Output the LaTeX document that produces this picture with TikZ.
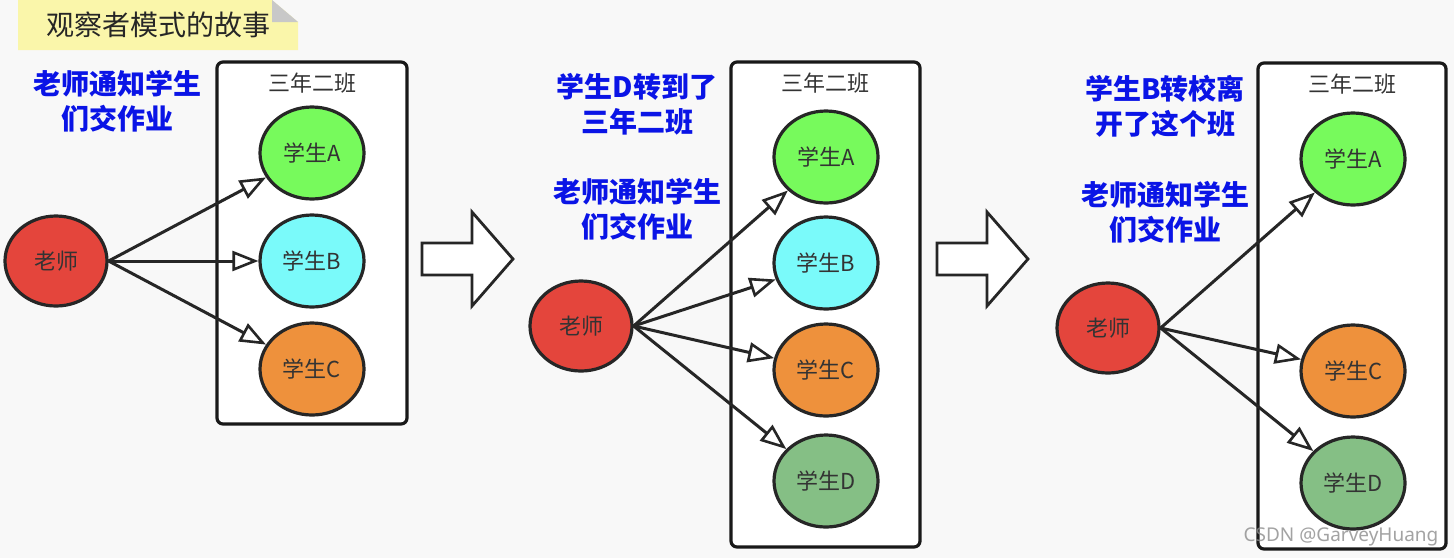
\documentclass[tikz,border=0pt]{standalone}
\usepackage{fontspec}
\setmainfont{Noto Sans CJK SC}
\newfontfamily\wmfont{Noto Sans}
\usetikzlibrary{positioning, shapes.geometric, arrows.meta}
\definecolor{bgcol}{HTML}{F8F8F8}
\definecolor{notecol}{HTML}{FAF6AA}
\definecolor{foldcol}{HTML}{C8C8C8}
\definecolor{teachercol}{HTML}{E4453C}
\definecolor{acol}{HTML}{77FA5C}
\definecolor{bcol}{HTML}{7AFAFA}
\definecolor{ccol}{HTML}{EE913C}
\definecolor{dcol}{HTML}{85BF85}
\definecolor{bluecol}{HTML}{0A14E6}
\tikzstyle{teacher} = [ellipse, draw=black!85, line width=1.6pt, fill=teachercol, minimum width=51pt, minimum height=45pt, inner sep=0pt, text=black!80, font=\fontsize{11}{13}\selectfont]
\tikzstyle{student} = [ellipse, draw=black!85, line width=1.6pt, minimum width=52pt, minimum height=46pt, inner sep=0pt, text=black!80, font=\fontsize{11}{13}\selectfont]
\tikzstyle{classbox} = [rectangle, rounded corners=3pt, draw=black!90, line width=1.6pt, fill=white]
\tikzstyle{classname} = [anchor=north, yshift=-2.5pt, text=black!80, font=\fontsize{11}{13}\selectfont]
\tikzstyle{story} = [text=bluecol, align=center, font=\bfseries\fontsize{14}{17.5}\selectfont]
\tikzstyle{bigarrow} = [draw=black!85, line width=1.4pt, fill=white, line join=miter]
\tikzstyle{arrow} = [line width=1.5pt, draw=black!85, -{Triangle[open, length=13pt, width=10pt, line width=1.3pt]}]

\begin{document}
\begin{tikzpicture}[x=0.5pt, y=-0.5pt]
		%背景
		\fill [bgcol] (0,0) rectangle (1454,558);
		\useasboundingbox (0,0) rectangle (1454,558);
		
		%标题
		\fill [notecol] (18,0) -- (272,0) -- (298,22) -- (298,50) -- (18,50) -- cycle;
		\fill [foldcol] (272,0) -- (298,22) -- (272,22) -- cycle;
		\node (title) at (158,25) [text=black!85, font=\fontsize{14}{17}\selectfont] {观察者模式的故事};
		
		%第一幅图
		\node (story1) at (117,101) [story] {老师通知学生\\们交作业};
		\node (cls1) at (312,243) [classbox, minimum width=95pt, minimum height=181pt] {};
		\node (name1) at (cls1.north) [classname] {三年二班};
		\node (a1) at (312,153) [student, fill=acol] {学生A};
		\node (b1) at (312,261) [student, fill=bcol] {学生B};
		\node (c1) at (312,369) [student, fill=ccol] {学生C};
		\node (t1) at (56,261) [teacher] {老师};
		\draw [arrow] (t1.east) -- (a1);
		\draw [arrow] (t1.east) -- (b1);
		\draw [arrow] (t1.east) -- (c1);
		
		%空心箭头
		\draw [bigarrow] (422,243) -- (472,243) -- (472,212) -- (513,259) -- (472,306) -- (472,275) -- (422,275) -- cycle;
		\draw [bigarrow] (937,243) -- (987,243) -- (987,212) -- (1028,259) -- (987,306) -- (987,275) -- (937,275) -- cycle;
		
		%第二幅图
		\node (story2) at (637,104) [story] {学生D转到了\\三年二班};
		\node (story3) at (637,209) [story] {老师通知学生\\们交作业};
		\node (cls2) at (825.5,304.5) [classbox, minimum width=94.5pt, minimum height=242.5pt] {};
		\node (name2) at (cls2.north) [classname] {三年二班};
		\node (a2) at (826,157) [student, fill=acol] {学生A};
		\node (b2) at (826,263) [student, fill=bcol] {学生B};
		\node (c2) at (826,370) [student, fill=ccol] {学生C};
		\node (d2) at (826,481) [student, fill=dcol] {学生D};
		\node (t2) at (581,326) [teacher] {老师};
		\draw [arrow] (t2.east) -- (a2);
		\draw [arrow] (t2.east) -- (b2);
		\draw [arrow] (t2.east) -- (c2);
		\draw [arrow] (t2.east) -- (d2);
		
		%第三幅图
		\node (story4) at (1165,106) [story] {学生B转校离\\开了这个班};
		\node (story5) at (1165,212) [story] {老师通知学生\\们交作业};
		\node (cls3) at (1352,306) [classbox, minimum width=94pt, minimum height=243pt] {};
		\node (name3) at (cls3.north) [classname] {三年二班};
		\node (a3) at (1353,159) [student, fill=acol] {学生A};
		\node (c3) at (1353,371) [student, fill=ccol] {学生C};
		\node (d3) at (1353,483) [student, fill=dcol] {学生D};
		\node (t3) at (1108,328) [teacher] {老师};
		\draw [arrow] (t3.east) -- (a3);
		\draw [arrow] (t3.east) -- (c3);
		\draw [arrow] (t3.east) -- (d3);
		
		%水印
		\node (mark) at (1341,537) [text=black!45, opacity=0.8, font=\wmfont\fontsize{9.5}{11}\selectfont] {CSDN @GarveyHuang};
	\end{tikzpicture}
\end{document}
